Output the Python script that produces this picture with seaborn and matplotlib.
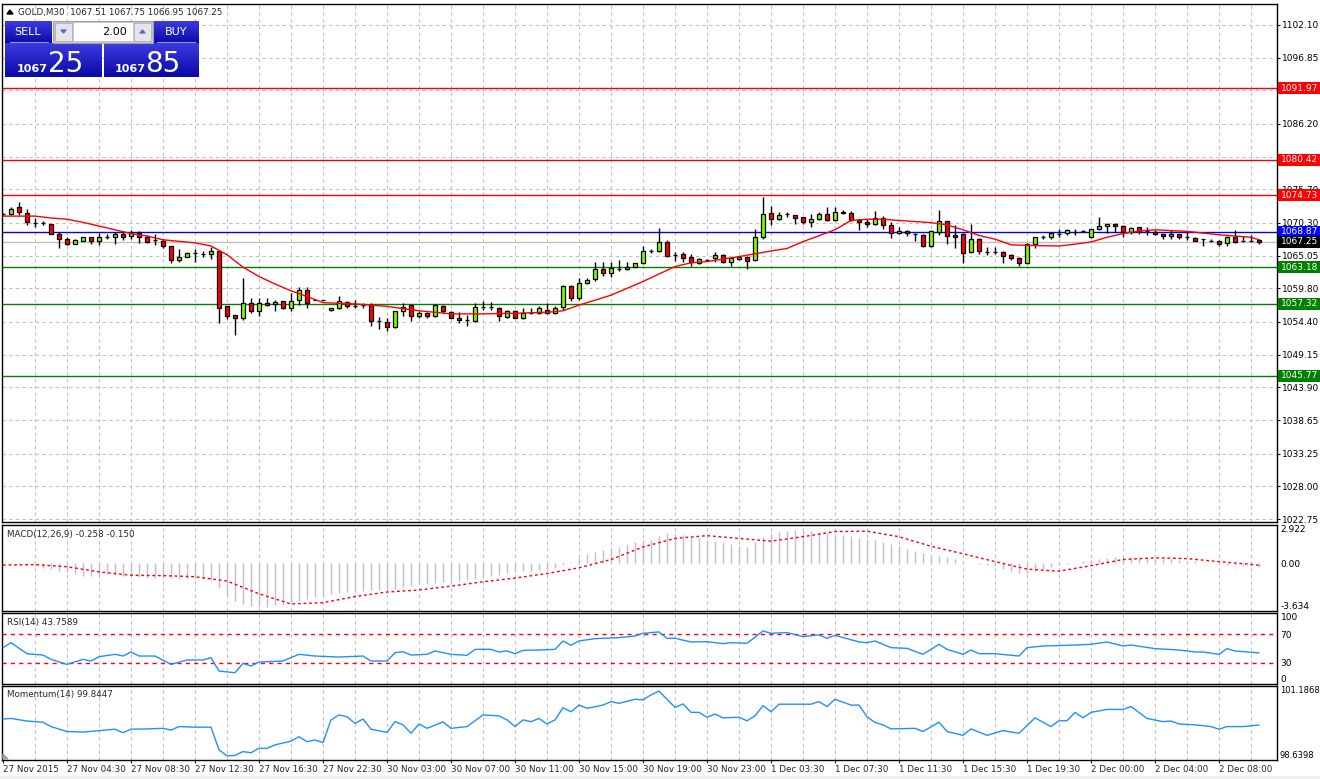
import numpy as np
import matplotlib
matplotlib.use("Agg")
import matplotlib.pyplot as plt
import matplotlib.transforms as mtransforms
from matplotlib.patches import Rectangle, Polygon
from matplotlib.colors import LinearSegmentedColormap
import seaborn as sns

W, H = 1320, 779

# ---- GOLD M30 candles ----
opens = [1071.7, 1071.7, 1072.8, 1071.85, 1070.35, 1070.25, 1070.1, 1068.6, 1067.8, 1067.0,
         1067.4, 1068.0, 1067.4, 1068.0, 1068.0, 1068.6, 1068.2, 1068.7, 1068.0, 1067.5,
         1067.45, 1066.55, 1064.3, 1064.9, 1065.4, 1065.3, 1065.3, 1065.8, 1057.0, 1055.5,
         1055.0, 1057.5, 1056.2, 1057.5, 1057.35, 1057.7, 1056.6, 1057.9, 1059.6, 1058.0,
         1057.9, 1056.3, 1056.6, 1057.55, 1057.0, 1057.1, 1057.2, 1054.5, 1054.45, 1053.55,
         1056.2, 1057.1, 1055.3, 1055.9, 1055.4, 1056.9, 1056.05, 1055.1, 1054.7, 1054.5,
         1056.75, 1056.75, 1056.6, 1055.2, 1056.1, 1055.05, 1055.9, 1055.9, 1056.4, 1055.9,
         1056.75, 1060.2, 1058.2, 1060.6, 1061.25, 1062.9, 1062.3, 1062.9, 1062.85, 1063.3,
         1063.8, 1065.8, 1065.8, 1067.25, 1065.15, 1065.3, 1064.8, 1063.8, 1064.35, 1064.75,
         1065.15, 1064.0, 1064.45, 1064.9, 1064.3, 1068.1, 1071.85, 1070.9, 1071.7, 1071.6,
         1071.2, 1070.4, 1070.9, 1071.75, 1070.7, 1072.1, 1071.85, 1070.7, 1070.4, 1070.1,
         1071.05, 1069.9, 1068.65, 1069.0, 1068.5, 1068.3, 1066.65, 1068.8, 1070.55, 1068.3,
         1068.45, 1065.6, 1067.7, 1065.7, 1065.7, 1065.6, 1065.15, 1064.6, 1063.8, 1067.0,
         1068.1, 1068.0, 1068.6, 1068.65, 1068.9, 1069.0, 1068.0, 1069.3, 1069.75, 1070.1,
         1069.8, 1068.9, 1069.6, 1068.95, 1068.85, 1068.5, 1068.2, 1068.5, 1068.0, 1067.85,
         1067.65, 1067.45, 1067.4, 1067.05, 1068.0, 1067.45, 1067.45, 1067.51]
highs = [1071.9, 1072.9, 1073.7, 1072.5, 1071.05, 1070.6, 1070.2, 1068.8, 1068.0, 1067.8,
         1068.0, 1068.0, 1068.7, 1068.6, 1068.9, 1068.9, 1069.2, 1069.0, 1068.4, 1068.5,
         1067.8, 1066.66, 1066.1, 1065.7, 1066.1, 1065.8, 1066.4, 1065.8, 1057.0, 1055.5,
         1061.4, 1058.2, 1058.2, 1058.2, 1057.9, 1057.8, 1059.0, 1060.0, 1060.0, 1058.0,
         1057.9, 1056.7, 1058.6, 1057.8, 1058.0, 1057.4, 1057.4, 1055.2, 1055.0, 1056.2,
         1057.5, 1057.1, 1056.2, 1056.0, 1057.3, 1057.1, 1056.1, 1055.95, 1055.5, 1057.4,
         1057.7, 1057.6, 1056.8, 1056.4, 1056.3, 1056.6, 1056.6, 1056.9, 1057.4, 1056.9,
         1060.35, 1060.35, 1061.4, 1061.4, 1064.1, 1064.1, 1064.1, 1064.4, 1064.1, 1063.9,
         1066.6, 1066.1, 1069.55, 1067.5, 1065.7, 1065.7, 1065.3, 1064.6, 1064.45, 1065.65,
         1065.3, 1064.9, 1064.95, 1065.0, 1069.4, 1074.5, 1073.0, 1072.1, 1072.0, 1071.6,
         1071.3, 1071.7, 1072.1, 1072.8, 1072.8, 1072.4, 1072.3, 1070.9, 1070.9, 1072.2,
         1071.4, 1070.5, 1069.6, 1069.2, 1068.7, 1068.5, 1069.2, 1072.4, 1070.65, 1070.0,
         1068.7, 1070.1, 1067.85, 1066.5, 1066.5, 1065.8, 1065.3, 1064.9, 1067.1, 1068.1,
         1068.4, 1068.9, 1069.4, 1069.4, 1069.3, 1069.2, 1069.4, 1071.2, 1070.35, 1070.35,
         1069.9, 1069.7, 1069.7, 1069.6, 1069.2, 1068.6, 1069.1, 1068.6, 1068.9, 1068.0,
         1067.65, 1067.65, 1067.55, 1068.2, 1069.1, 1068.2, 1068.4, 1067.75]
lows = [1071.5, 1071.5, 1071.6, 1070.0, 1069.7, 1069.9, 1068.5, 1066.3, 1066.7, 1066.9,
        1067.4, 1066.9, 1066.7, 1067.7, 1066.9, 1067.6, 1067.7, 1067.1, 1067.1, 1066.8,
        1066.2, 1063.8, 1064.1, 1064.8, 1064.1, 1064.9, 1064.5, 1054.2, 1054.8, 1052.3,
        1054.7, 1055.9, 1055.4, 1056.9, 1056.2, 1056.5, 1056.2, 1057.1, 1056.7, 1058.0,
        1057.9, 1056.2, 1056.5, 1056.7, 1056.6, 1056.7, 1053.8, 1053.2, 1052.9, 1053.4,
        1055.4, 1054.5, 1055.1, 1055.1, 1055.2, 1055.9, 1055.0, 1054.2, 1053.8, 1054.4,
        1056.3, 1056.3, 1054.5, 1055.0, 1055.0, 1054.9, 1055.7, 1055.7, 1055.7, 1055.7,
        1056.3, 1057.8, 1058.0, 1060.5, 1061.0, 1061.8, 1061.7, 1062.6, 1062.7, 1063.2,
        1063.7, 1065.5, 1065.7, 1064.9, 1064.25, 1064.1, 1063.4, 1063.7, 1064.25, 1064.0,
        1063.8, 1063.4, 1064.3, 1062.85, 1064.2, 1067.8, 1069.9, 1070.7, 1071.3, 1070.1,
        1070.2, 1069.7, 1070.8, 1070.6, 1070.6, 1071.7, 1070.6, 1069.1, 1069.6, 1070.0,
        1069.3, 1067.95, 1068.5, 1068.2, 1067.4, 1066.5, 1066.5, 1068.4, 1067.0, 1066.2,
        1063.9, 1065.4, 1065.3, 1065.2, 1065.3, 1063.8, 1064.4, 1063.4, 1063.7, 1066.3,
        1067.7, 1067.8, 1068.0, 1068.4, 1068.4, 1068.8, 1067.9, 1069.2, 1068.65, 1068.9,
        1068.0, 1068.5, 1068.5, 1068.4, 1068.4, 1067.7, 1067.7, 1067.7, 1067.6, 1067.35,
        1066.6, 1067.25, 1066.65, 1066.65, 1067.1, 1067.2, 1067.3, 1066.95]
closes = [1071.7, 1072.6, 1072.0, 1070.5, 1070.35, 1070.25, 1068.6, 1067.8, 1067.0, 1067.5,
          1068.0, 1067.4, 1068.0, 1068.0, 1068.6, 1068.0, 1068.7, 1068.0, 1067.3, 1067.5,
          1066.6, 1064.3, 1064.9, 1065.5, 1065.4, 1065.3, 1065.8, 1056.7, 1055.3, 1055.0,
          1057.5, 1056.1, 1057.5, 1057.2, 1057.65, 1056.6, 1057.7, 1059.6, 1057.5, 1058.0,
          1057.9, 1056.6, 1057.7, 1056.9, 1057.0, 1057.1, 1054.5, 1054.5, 1053.55, 1056.1,
          1056.85, 1055.3, 1055.9, 1055.3, 1057.1, 1056.1, 1055.1, 1054.7, 1054.7, 1056.8,
          1056.75, 1056.75, 1055.4, 1056.2, 1055.05, 1055.9, 1055.9, 1056.6, 1055.9, 1056.6,
          1060.2, 1058.2, 1060.6, 1061.15, 1062.9, 1062.3, 1063.0, 1062.9, 1063.3, 1063.8,
          1065.8, 1065.8, 1067.25, 1065.0, 1065.15, 1064.6, 1064.1, 1064.45, 1064.35, 1065.1,
          1064.0, 1064.6, 1064.85, 1064.25, 1068.0, 1071.75, 1070.9, 1071.6, 1071.7, 1071.05,
          1070.4, 1070.9, 1071.75, 1070.7, 1072.1, 1071.85, 1070.7, 1070.45, 1070.1, 1071.05,
          1069.9, 1068.65, 1069.0, 1068.65, 1068.5, 1066.65, 1069.0, 1070.55, 1068.2, 1068.0,
          1065.4, 1067.7, 1065.75, 1065.7, 1065.7, 1065.05, 1064.6, 1063.8, 1066.9, 1068.0,
          1068.1, 1068.65, 1068.6, 1069.1, 1068.9, 1069.0, 1069.3, 1069.8, 1070.1, 1069.8,
          1068.9, 1069.45, 1069.05, 1068.95, 1068.5, 1068.2, 1068.5, 1068.0, 1068.0, 1067.45,
          1067.65, 1067.45, 1066.85, 1068.0, 1067.3, 1067.45, 1067.45, 1067.25]

# moving average (red line), read at sample bars
ma_idx = [0, 4, 6, 8, 10, 12, 14, 16, 18, 20, 22, 24, 26, 28, 30, 32, 34, 36, 38, 40,
          44, 48, 52, 56, 60, 64, 68, 70, 72, 76, 80, 84, 86, 88, 92, 96, 98, 100, 104, 106,
          108, 110, 112, 116, 118, 120, 122, 124, 126, 128, 132, 134, 136, 138, 140, 142, 144,
          148, 152, 156, 157]
ma_val = [1071.4, 1071.4, 1071.1, 1070.9, 1070.4, 1069.8, 1069.2, 1068.6, 1068.2, 1067.6,
          1067.35, 1067.1, 1066.6, 1065.2, 1063.2, 1061.7, 1060.5, 1059.4, 1058.5, 1057.5,
          1057.3, 1056.9, 1056.2, 1055.7, 1055.7, 1055.8, 1055.95, 1056.2, 1057.1, 1058.7,
          1060.9, 1063.3, 1063.9, 1064.1, 1064.9, 1065.8, 1066.2, 1067.3, 1069.2, 1070.7,
          1070.9, 1070.9, 1070.7, 1070.35, 1070.0, 1069.2, 1068.3, 1067.7, 1066.8, 1066.7,
          1066.6, 1066.9, 1067.25, 1068.0, 1068.6, 1069.0, 1069.2, 1068.95, 1068.4, 1068.0,
          1067.6]

# horizontal levels
res_levels = [1091.97, 1080.42, 1074.73]
pivot_level = 1068.87
bid_level = 1067.25
sup_levels = [1063.18, 1057.32, 1045.77]

# price grid; two labels sit hidden under the level tags in the original
price_ticks = [1022.75, 1028.00, 1033.25, 1038.65, 1043.90, 1049.15, 1054.40, 1059.80,
               1065.05, 1070.30, 1075.70, 1080.95, 1086.20, 1091.60, 1096.85, 1102.10]
price_labels = ["1022.75", "1028.00", "1033.25", "1038.65", "1043.90", "1049.15", "1054.40",
                "1059.80", "1065.05", "1070.30", "1075.70", "", "1086.20", "",
                "1096.85", "1102.10"]

time_labels = ["27 Nov 2015", "27 Nov 04:30", "27 Nov 08:30", "27 Nov 12:30", "27 Nov 16:30",
               "27 Nov 22:30", "30 Nov 03:00", "30 Nov 07:00", "30 Nov 11:00", "30 Nov 15:00",
               "30 Nov 19:00", "30 Nov 23:00", "1 Dec 03:30", "1 Dec 07:30", "1 Dec 11:30",
               "1 Dec 15:30", "1 Dec 19:30", "2 Dec 00:00", "2 Dec 04:00", "2 Dec 08:00"]

# MACD(12,26,9): main as histogram (one per bar), signal read at sample bars
macd_hist = [0.0, -0.02, -0.05, -0.1, -0.2, -0.35, -0.45, -0.55, -0.65, -0.8,
             -0.95, -0.95, -0.9, -0.85, -0.9, -0.95, -1.0, -1.05, -1.1, -1.1,
             -1.1, -1.15, -1.2, -1.2, -1.2, -1.2, -1.3, -1.9, -2.4, -2.9,
             -3.1, -3.25, -3.3, -3.3, -3.2, -3.15, -3.05, -2.9, -2.75, -2.6,
             -2.5, -2.35, -2.25, -2.2, -2.15, -2.1, -2.05, -2.0, -2.0, -1.95,
             -1.8, -1.7, -1.6, -1.55, -1.5, -1.45, -1.4, -1.35, -1.3, -1.2,
             -1.1, -1.0, -0.9, -0.75, -0.65, -0.6, -0.55, -0.5, -0.4, -0.35,
             -0.15, 0.1, 0.4, 0.7, 0.85, 1.0, 1.1, 1.25, 1.45, 1.6,
             1.75, 1.8, 2.1, 2.3, 2.25, 2.15, 2.0, 1.9, 1.8, 1.7,
             1.6, 1.5, 1.35, 1.25, 1.6, 2.0, 2.3, 2.4, 2.5, 2.55,
             2.55, 2.45, 2.35, 2.3, 2.25, 2.15, 2.05, 1.95, 1.85, 1.75,
             1.6, 1.45, 1.3, 1.1, 0.95, 0.75, 0.6, 0.55, 0.45, 0.3,
             0.2, 0.05, -0.05, -0.1, -0.2, -0.4, -0.6, -0.75, -0.7, -0.6,
             -0.45, -0.3, -0.15, -0.05, 0.05, 0.15, 0.25, 0.35, 0.4, 0.45,
             0.45, 0.45, 0.4, 0.4, 0.35, 0.35, 0.3, 0.25, 0.2, 0.15,
             0.05, 0.0, -0.05, -0.1, -0.15, -0.18, -0.2, -0.258]
sig_idx = [0, 4, 8, 12, 16, 20, 24, 28, 32, 36, 40, 44, 48, 52, 56, 60, 64, 68, 72, 76,
           80, 84, 88, 92, 96, 100, 104, 108, 112, 116, 120, 124, 128, 132, 136, 140, 144,
           148, 152, 156, 157]
sig_val = [-0.13, -0.10, -0.26, -0.65, -0.91, -0.94, -1.02, -1.35, -2.32, -3.10, -3.0,
           -2.53, -2.19, -2.03, -1.74, -1.41, -1.12, -0.78, -0.34, 0.29, 1.25, 1.90, 2.11,
           1.90, 1.69, 2.03, 2.42, 2.45, 2.03, 1.30, 0.73, 0.13, -0.44, -0.60, -0.18, 0.29,
           0.42, 0.36, 0.13, -0.08, -0.15]

# RSI(14)
rsi_idx = [0, 1, 3, 5, 6, 8, 10, 11, 12, 14, 15, 16, 17, 19, 21, 23, 25, 26, 27, 29,
           30, 31, 32, 35, 37, 39, 42, 45, 46, 48, 49, 50, 51, 53, 54, 56, 58, 59, 61, 62,
           63, 64, 65, 67, 69, 70, 71, 72, 74, 77, 79, 80, 82, 83, 84, 86, 88, 90, 91, 93,
           95, 96, 98, 100, 102, 103, 104, 107, 108, 109, 111, 113, 115, 117, 118, 120, 121,
           122, 124, 127, 128, 130, 134, 136, 138, 140, 141, 144, 147, 149, 150, 152, 153,
           154, 157]
rsi_val = [51.2, 58.2, 42.7, 40.8, 34.7, 27.6, 34.7, 32.4, 38.5, 41.8, 39.4, 45.1, 39.4,
           39.4, 27.6, 33.8, 33.8, 37.1, 18.2, 15.9, 29.1, 25.3, 30.9, 32.4, 41.8, 39.4,
           38.0, 39.4, 32.4, 32.4, 44.1, 45.5, 40.8, 41.8, 46.5, 41.8, 40.4, 48.8, 48.8,
           45.1, 46.5, 42.7, 47.4, 47.9, 48.8, 60.6, 54.5, 60.6, 63.9, 65.3, 67.6, 71.4,
           73.3, 64.4, 64.4, 59.2, 59.6, 56.8, 58.2, 57.3, 74.7, 71.4, 72.4, 66.7, 69.1,
           64.4, 68.6, 59.2, 58.2, 60.6, 51.2, 50.2, 41.8, 55.9, 48.8, 41.8, 47.9, 42.7,
           42.7, 39.4, 51.2, 53.5, 54.9, 55.9, 59.2, 53.5, 54.9, 49.8, 47.9, 45.1, 45.1,
           41.8, 49.8, 46.5, 43.7589]

# Momentum(14)
mom_idx = [0, 1, 3, 5, 6, 8, 10, 12, 14, 15, 16, 18, 20, 21, 22, 24, 26, 27, 28, 29,
           30, 31, 32, 33, 34, 36, 37, 38, 39, 40, 41, 42, 43, 44, 45, 46, 48, 49, 50, 51,
           52, 53, 55, 56, 58, 60, 62, 63, 64, 65, 66, 67, 68, 69, 70, 71, 72, 73, 75, 76,
           77, 79, 80, 81, 82, 84, 85, 86, 87, 88, 89, 90, 92, 93, 94, 95, 96, 97, 101, 102,
           103, 104, 106, 107, 108, 109, 110, 111, 114, 115, 117, 118, 120, 121, 123, 125,
           127, 129, 131, 132, 133, 134, 135, 136, 138, 140, 141, 143, 145, 146, 147, 149,
           151, 152, 153, 155, 157]
mom_val = [100.05, 100.07, 99.98, 99.94, 99.79, 99.62, 99.60, 99.65, 99.70, 99.58, 99.70,
           99.71, 99.73, 99.67, 99.79, 99.77, 99.77, 98.99, 98.78, 98.80, 98.93, 98.89,
           99.04, 99.04, 99.16, 99.29, 99.44, 99.27, 99.33, 99.24, 100.02, 100.19, 100.13,
           99.90, 100.05, 99.70, 99.59, 99.96, 99.85, 99.56, 99.88, 99.73, 99.95, 99.73,
           99.79, 100.19, 100.16, 100.02, 99.79, 100.02, 99.96, 100.07, 99.88, 100.02,
           100.44, 100.30, 100.53, 100.42, 100.53, 100.65, 100.59, 100.73, 100.71, 100.88,
           101.01, 100.45, 100.57, 100.28, 100.28, 100.11, 100.22, 100.09, 100.11, 99.99,
           100.16, 100.51, 100.30, 100.56, 100.56, 100.65, 100.48, 100.73, 100.53, 100.53,
           100.13, 99.93, 99.85, 99.71, 99.73, 99.62, 99.94, 99.62, 99.49, 99.71, 99.49,
           99.65, 99.56, 100.09, 99.79, 99.99, 99.99, 100.28, 100.09, 100.28, 100.38,
           100.38, 100.48, 100.07, 99.96, 99.98, 99.88, 99.85, 99.79, 99.70, 99.79, 99.79,
           99.8447]

# ---------------------------------------------------------------
sns.set_style("white")
plt.rcParams['font.family'] = ['DejaVu Sans']

GRID = dict(color='#c0c0c0', ls=(0, (3, 3)), lw=0.8)
LBL = 6.5

fig = plt.figure(figsize=(W / 100, H / 100), dpi=100)


def px_axes(left, top, right, bottom):
    return fig.add_axes([left / W, 1 - bottom / H, (right - left) / W, (bottom - top) / H])


def style_panel(a, tick_len=2.2):
    a.set_xlim(-0.125, 159.25)
    a.set_facecolor('white')
    for s in a.spines.values():
        s.set_color('black')
        s.set_linewidth(1)
    a.set_xticks(range(4, 158, 4), minor=True)
    a.xaxis.remove_overlapping_locs = False
    a.grid(True, which='minor', axis='x', **GRID)
    a.tick_params(axis='x', which='minor', length=0)
    a.tick_params(axis='x', which='major', bottom=False, labelbottom=False)
    a.yaxis.tick_right()
    a.tick_params(axis='y', which='major', right=True, left=False, length=tick_len, width=0.8,
                  pad=1.5 if tick_len else 2.5, labelsize=LBL, colors='black')
    a.set_xlabel('')
    a.set_ylabel('')


ax = px_axes(2, 4, 1277, 522)
ax_macd = px_axes(2, 525, 1277, 611)
ax_rsi = px_axes(2, 613, 1277, 684)
ax_mom = px_axes(2, 686, 1277, 760)

idx = np.arange(len(opens))
o = np.array(opens)
c = np.array(closes)

# ---- main price panel ----
style_panel(ax)
ax.set_ylim(1022.27, 1105.47)
ax.set_yticks(price_ticks)
ax.set_yticklabels(price_labels)
ax.grid(True, which='major', axis='y', **GRID)

for lv in res_levels:
    ax.axhline(lv, color='#ff0000', lw=1, zorder=2)
ax.axhline(pivot_level, color='#0000ff', lw=1, zorder=2)
ax.axhline(bid_level, color='#c0c0c0', lw=1, zorder=2)
for lv in sup_levels:
    ax.axhline(lv, color='#008000', lw=1, zorder=2)

ax.vlines(idx, lows, highs, color='black', lw=1, zorder=3)
body_col = np.where(c >= o, '#7cfc00', '#ff0000')
ax.bar(idx, c - o, bottom=o, width=0.6, color=body_col, edgecolor='black', lw=0.9, zorder=4)
sns.lineplot(x=ma_idx, y=ma_val, ax=ax, color='#ff0000', lw=1, zorder=5)
ax.set_xlabel('')
ax.set_ylabel('')

blend = mtransforms.blended_transform_factory(ax.transAxes, ax.transData)
ppx = (522 - 4) / (1105.47 - 1022.27)
axw = 1275.0


def price_tag(y, color):
    h = 12 / ppx
    ax.add_patch(Rectangle((1 + 1 / axw, y - h / 2), 42 / axw, h, transform=blend,
                           facecolor=color, edgecolor='none', clip_on=False, zorder=10))
    ax.text(1 + 4 / axw, y, f"{y:.2f}", transform=blend, color='white', fontsize=LBL,
            va='center', ha='left', clip_on=False, zorder=11)


for lv in res_levels:
    price_tag(lv, '#ff0000')
price_tag(pivot_level, '#0000ff')
price_tag(bid_level, '#000000')
for lv in sup_levels:
    price_tag(lv, '#008000')

# ---- MACD panel ----
style_panel(ax_macd, tick_len=0)
ax_macd.set_ylim(-3.634, 2.922)
ax_macd.vlines(idx, 0, macd_hist, color='#c0c0c0', lw=1, zorder=2)
sns.lineplot(x=sig_idx, y=sig_val, ax=ax_macd, color='#ff0000', lw=1,
             linestyle=(0, (2, 2)), zorder=3)
ax_macd.set_yticks([2.922, 0.0, -3.634])
ax_macd.set_yticklabels(['2.922', '0.00', '-3.634'])
ax_macd.set_xlabel('')
ax_macd.set_ylabel('')

# ---- RSI panel ----
style_panel(ax_rsi, tick_len=0)
ax_rsi.set_ylim(0, 100)
for lv in (70, 30):
    ax_rsi.axhline(lv, color='#ff0000', lw=1, ls=(0, (3, 3)), zorder=2)
sns.lineplot(x=rsi_idx, y=rsi_val, ax=ax_rsi, color='#1e90ff', lw=1, zorder=3)
ax_rsi.set_yticks([100, 70, 30, 0])
ax_rsi.set_yticklabels(['100', '70', '30', '0'])
ax_rsi.set_xlabel('')
ax_rsi.set_ylabel('')

# ---- Momentum panel ----
style_panel(ax_mom, tick_len=0)
ax_mom.set_ylim(98.6398, 101.1868)
sns.lineplot(x=mom_idx, y=mom_val, ax=ax_mom, color='#1e90ff', lw=1, zorder=3)
ax_mom.set_yticks([101.1868, 98.6398])
ax_mom.set_yticklabels(['101.1868', '98.6398'])
ax_mom.tick_params(axis='y', labelsize=6.0, pad=2)
ax_mom.set_xticks(range(0, 8 * len(time_labels), 8))
ax_mom.set_xticklabels(time_labels, ha='left', fontsize=6.3)
ax_mom.tick_params(axis='x', which='major', bottom=True, labelbottom=True, length=2.2,
                   width=0.8, pad=1.5)
ax_mom.set_xlabel('')
ax_mom.set_ylabel('')

# top/bottom labels of the sub panels sit inside the range
for a in (ax_macd, ax_rsi, ax_mom):
    ticks = a.yaxis.get_major_ticks()
    ticks[0].label2.set_verticalalignment('top')
    ticks[-1].label2.set_verticalalignment('bottom')


def ptext(x, y, s, **kw):
    fig.text(x / W, 1 - y / H, s, **kw)


ptext(7, 534, "MACD(12,26,9) -0.258 -0.150", fontsize=6.3, va='center')
ptext(7, 622, "RSI(14) 43.7589", fontsize=6.3, va='center')
ptext(7, 694, "Momentum(14) 99.8447", fontsize=6.3, va='center')

# ---- overlay: header and one-click trading panel ----
ov = fig.add_axes([0, 0, 1, 1], zorder=20)
ov.patch.set_alpha(0)
ov.axis('off')

ov.add_patch(Polygon([(7, 14), (13, 14), (10, 10)], closed=True, color='black'))
ov.text(18, 12, "GOLD,M30  1067.51 1067.75 1066.95 1067.25", fontsize=6.3, va='center')

blue = LinearSegmentedColormap.from_list('mt4blue', ['#3a3ae0', '#0a0aa8'])
grad = np.linspace(0, 1, 64).reshape(-1, 1)


def blue_box(x0, y0, x1, y1):
    ov.imshow(grad, extent=(x0, x1, y1, y0), cmap=blue, aspect='auto', origin='upper',
              interpolation='bilinear')


blue_box(5, 21, 52, 43)
blue_box(154, 21, 199, 43)
blue_box(5, 43, 102, 77)
blue_box(104, 43, 199, 77)

ov.add_patch(Rectangle((53, 21), 100, 22, facecolor='#c8c8c8', edgecolor='#a0a0a0', lw=0.8))
ov.add_patch(Rectangle((55, 23), 17, 18, facecolor='#e4e4ec', edgecolor='#b0b0b0', lw=0.6))
ov.add_patch(Rectangle((134, 23), 17, 18, facecolor='#e4e4ec', edgecolor='#b0b0b0', lw=0.6))
ov.add_patch(Rectangle((74, 23), 59, 18, facecolor='white', edgecolor='none'))
ov.add_patch(Polygon([(61, 30), (66, 30), (63.5, 33)], closed=True, color='#6070a0'))
ov.add_patch(Polygon([(140, 33), (145, 33), (142.5, 30)], closed=True, color='#6070a0'))
ov.text(127, 32, "2.00", fontsize=8, ha='right', va='center', color='black')

ov.plot([10, 48], [42, 42], color='#9090ff', lw=0.8)
ov.plot([157, 195], [42, 42], color='#9090ff', lw=0.8)
ov.text(28, 32, "SELL", fontsize=8, ha='center', va='center', color='white')
ov.text(176, 32, "BUY", fontsize=8, ha='center', va='center', color='white')

ov.text(17, 72, "1067", fontsize=8, fontweight='bold', ha='left', va='baseline', color='white')
ov.text(48, 72, "25", fontsize=20, ha='left', va='baseline', color='white')
ov.text(115, 72, "1067", fontsize=8, fontweight='bold', ha='left', va='baseline', color='white')
ov.text(145, 72, "85", fontsize=20, ha='left', va='baseline', color='white')

# chart-shift marker in the lower left corner and the status strip
ov.add_patch(Polygon([(3, 759), (3, 754), (8, 759)], closed=True, color='#a0a0a0'))
ov.add_patch(Rectangle((0, 776), W, 3, facecolor='#f0f0f0', edgecolor='none'))

ov.set_xlim(0, W)
ov.set_ylim(H, 0)

fig.savefig("out.png", dpi=100)
